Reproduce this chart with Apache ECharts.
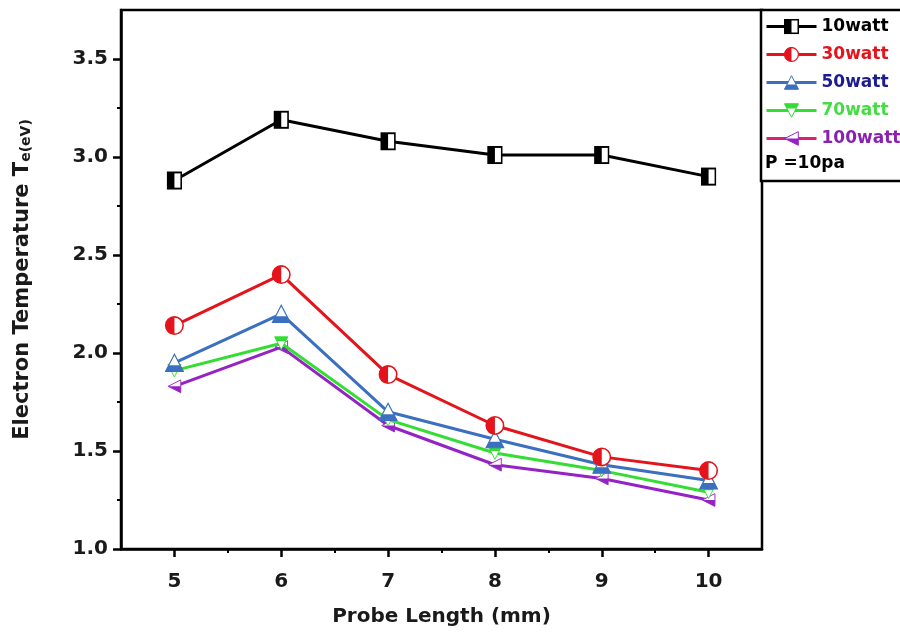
<!DOCTYPE html>
<html style="height: 100%">
<head>
  <meta charset="utf-8">
</head>
<body style="height: 100%; margin: 0; background: #fff">
  <div id="container" style="width: 900px; height: 637px"></div>
  <script type="text/javascript" src="https://cdn.jsdelivr.net/npm/echarts@6/dist/echarts.min.js"></script>
  <script type="text/javascript">
    // probe length (mm)
    var probeLength = [5, 6, 7, 8, 9, 10];
    var seriesNames = ['10watt', '30watt', '50watt', '70watt', '100watt'];

    // electron temperature Te (eV)
    var te10 = [2.88, 3.19, 3.08, 3.01, 3.01, 2.90];
    var te30 = [2.14, 2.40, 1.89, 1.63, 1.47, 1.40];
    var te50 = [1.95, 2.20, 1.70, 1.56, 1.43, 1.35];
    var te70 = [1.91, 2.05, 1.66, 1.49, 1.40, 1.29];
    var te100 = [1.83, 2.03, 1.63, 1.43, 1.36, 1.25];

    var yTicks = [1.0, 1.5, 2.0, 2.5, 3.0, 3.5];
    var yMinorTicks = [1.25, 1.75, 2.25, 2.75, 3.25];
    var xMinorTicks = [5.5, 6.5, 7.5, 8.5, 9.5];

    // half filled markers, like the Origin ones
    function svgSymbol(inner) {
      var svg = '<svg xmlns="http://www.w3.org/2000/svg" width="20" height="20" viewBox="0 0 20 20">' + inner + '</svg>';
      return 'image://data:image/svg+xml;charset=utf-8,' + encodeURIComponent(svg);
    }
    var symSquare = svgSymbol(
      '<rect x="1.5" y="1.5" width="17" height="17" fill="#fff" stroke="#000" stroke-width="2"/>' +
      '<rect x="1.5" y="1.5" width="8.5" height="17" fill="#000"/>');
    var symCircle = svgSymbol(
      '<circle cx="10" cy="10" r="8.7" fill="#fff" stroke="#e3141c" stroke-width="1.6"/>' +
      '<path d="M10 1.3 A8.7 8.7 0 0 0 10 18.7 Z" fill="#e3141c"/>');
    var symTriUp = svgSymbol(
      '<polygon points="10,1.5 18.8,18.5 1.2,18.5" fill="#fff" stroke="#3b6fbf" stroke-width="1.2"/>' +
      '<polygon points="4.2,12.5 15.8,12.5 18.8,18.5 1.2,18.5" fill="#3b6fbf"/>');
    var symTriDown = svgSymbol(
      '<polygon points="1.2,1.5 18.8,1.5 10,18.5" fill="#fff" stroke="#33dd33" stroke-width="1.2"/>' +
      '<polygon points="1.2,1.5 18.8,1.5 15.8,7.5 4.2,7.5" fill="#33dd33"/>');
    var symTriLeft = svgSymbol(
      '<polygon points="1.5,10 18.5,1.5 18.5,18.5" fill="#fff" stroke="#9422c4" stroke-width="1.2"/>' +
      '<polygon points="1.5,10 18.5,10 18.5,18.5" fill="#9422c4"/>');

    function pairs(values) {
      return probeLength.map(function (x, i) { return [x, values[i]]; });
    }

    var lineColors = ['#000000', '#e3141c', '#3b6fbf', '#33dd33', '#9422c4'];
    var textColors = ['#000000', '#e3141c', '#1c1c8e', '#44dd44', '#8a22b0'];
    var symbols = [symSquare, symCircle, symTriUp, symTriDown, symTriLeft];
    var symbolSizes = [[16, 19], 20, 20, 15, 15];
    var allValues = [te10, te30, te50, te70, te100];

    var dom = document.getElementById('container');
    var myChart = echarts.init(dom, null, { renderer: 'canvas' });

    var font = 'DejaVu Sans, Verdana, sans-serif';

    var option = {
      animation: false,
      backgroundColor: '#fff',
      grid: {
        left: 121,
        right: 138,
        top: 10,
        bottom: 88,
        show: true,
        borderColor: '#000',
        borderWidth: 2.5,
        backgroundColor: 'transparent'
      },
      legend: {
        orient: 'vertical',
        left: 761,
        top: 10,
        padding: [8, 30, 34, 4],
        itemWidth: 50,
        itemHeight: 20,
        itemGap: 11,
        borderColor: '#000',
        borderWidth: 2.5,
        backgroundColor: '#fff',
        lineStyle: { width: 3 },
        textStyle: { fontFamily: font, fontWeight: 'bold', fontSize: 17 },
        data: seriesNames.map(function (n, i) {
          var item = { name: n, textStyle: { color: textColors[i] } };
          if (i === 4) item.lineStyle = { color: '#e01e6e', width: 3 };
          return item;
        })
      },
      graphic: [{
        type: 'text',
        left: 765,
        top: 155,
        z: 100,
        style: { text: 'P =10pa', fontFamily: font, fontWeight: 'bold', fontSize: 17, fill: '#000' }
      }],
      xAxis: [{
        type: 'value',
        min: 4.5,
        max: 10.5,
        name: 'Probe Length (mm)',
        nameLocation: 'middle',
        nameGap: 58,
        nameTextStyle: { fontFamily: font, fontWeight: 'bold', fontSize: 20, color: '#1a1a1a' },
        axisLine: { show: true, onZero: false, lineStyle: { color: '#000', width: 2.5 } },
        axisTick: { show: true, length: 8, customValues: probeLength, lineStyle: { color: '#000', width: 2.5 } },
        axisLabel: { customValues: probeLength, margin: 23, fontFamily: font, fontWeight: 'bold', fontSize: 20, color: '#1a1a1a' },
        splitLine: { show: false }
      }, {
        type: 'value',
        min: 4.5,
        max: 10.5,
        position: 'bottom',
        axisLine: { show: false },
        axisTick: { show: true, length: 4, customValues: xMinorTicks, lineStyle: { color: '#000', width: 2 } },
        axisLabel: { show: false },
        splitLine: { show: false }
      }],
      yAxis: [{
        type: 'value',
        min: 1.0,
        max: 3.75,
        name: 'Electron Temperature T{sub|e(eV)}',
        nameLocation: 'middle',
        nameGap: 88,
        nameTextStyle: {
          fontFamily: font, fontWeight: 'bold', fontSize: 21, color: '#1a1a1a',
          rich: { sub: { fontFamily: font, fontWeight: 'bold', fontSize: 14, color: '#1a1a1a', padding: [7, 0, 0, 0] } }
        },
        axisLine: { show: true, onZero: false, lineStyle: { color: '#000', width: 2.5 } },
        axisTick: { show: true, length: 8, customValues: yTicks, lineStyle: { color: '#000', width: 2.5 } },
        axisLabel: {
          customValues: yTicks, margin: 13, fontFamily: font, fontWeight: 'bold', fontSize: 20, color: '#1a1a1a',
          formatter: function (v) { return v.toFixed(1); }
        },
        splitLine: { show: false }
      }, {
        type: 'value',
        min: 1.0,
        max: 3.75,
        position: 'left',
        axisLine: { show: false },
        axisTick: { show: true, length: 4, customValues: yMinorTicks, lineStyle: { color: '#000', width: 2 } },
        axisLabel: { show: false },
        splitLine: { show: false }
      }],
      series: seriesNames.map(function (n, i) {
        return {
          name: n,
          type: 'line',
          data: pairs(allValues[i]),
          symbol: symbols[i],
          symbolSize: symbolSizes[i],
          showSymbol: true,
          lineStyle: { color: lineColors[i], width: 3 },
          itemStyle: { color: lineColors[i] },
          z: 10 - i
        };
      })
    };

    myChart.setOption(option);
    window.addEventListener('resize', myChart.resize);
  </script>
</body>
</html>
